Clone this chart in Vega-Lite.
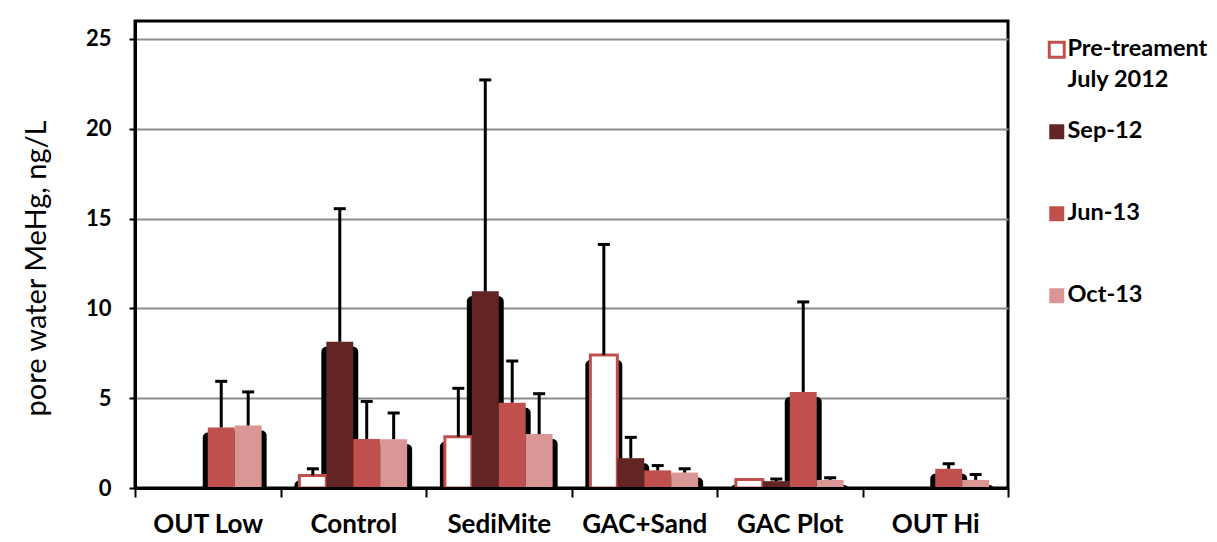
{
  "$schema": "https://vega.github.io/schema/vega-lite/v6.json",
  "width": 873,
  "height": 467,
  "autosize": {"type": "none"},
  "padding": {"left": 135, "top": 21, "right": 209, "bottom": 54},
  "background": "white",
  "config": {"view": {"stroke": "black", "strokeWidth": 3}, "font": "Lato"},
  "data": {
    "values": [
      {"site": "OUT Low", "series": "Jun-13", "value": 3.37, "upper": 5.94},
      {"site": "OUT Low", "series": "Oct-13", "value": 3.48, "upper": 5.35},
      {"site": "Control", "series": "Pre-treament July 2012", "value": 0.7, "upper": 1.07},
      {"site": "Control", "series": "Sep-12", "value": 8.14, "upper": 15.55},
      {"site": "Control", "series": "Jun-13", "value": 2.73, "upper": 4.82},
      {"site": "Control", "series": "Oct-13", "value": 2.72, "upper": 4.18},
      {"site": "SediMite", "series": "Pre-treament July 2012", "value": 2.85, "upper": 5.55},
      {"site": "SediMite", "series": "Sep-12", "value": 10.95, "upper": 22.72},
      {"site": "SediMite", "series": "Jun-13", "value": 4.75, "upper": 7.07},
      {"site": "SediMite", "series": "Oct-13", "value": 3.0, "upper": 5.25},
      {"site": "GAC+Sand", "series": "Pre-treament July 2012", "value": 7.4, "upper": 13.56},
      {"site": "GAC+Sand", "series": "Sep-12", "value": 1.66, "upper": 2.82},
      {"site": "GAC+Sand", "series": "Jun-13", "value": 0.98, "upper": 1.25},
      {"site": "GAC+Sand", "series": "Oct-13", "value": 0.86, "upper": 1.07},
      {"site": "GAC Plot", "series": "Pre-treament July 2012", "value": 0.48, "upper": null},
      {"site": "GAC Plot", "series": "Sep-12", "value": 0.38, "upper": 0.5},
      {"site": "GAC Plot", "series": "Jun-13", "value": 5.35, "upper": 10.36},
      {"site": "GAC Plot", "series": "Oct-13", "value": 0.45, "upper": 0.57},
      {"site": "OUT Hi", "series": "Jun-13", "value": 1.07, "upper": 1.35},
      {"site": "OUT Hi", "series": "Oct-13", "value": 0.45, "upper": 0.75}
    ]
  },
  "encoding": {
    "x": {
      "field": "site",
      "type": "nominal",
      "sort": ["OUT Low", "Control", "SediMite", "GAC+Sand", "GAC Plot", "OUT Hi"],
      "title": null,
      "scale": {"paddingInner": 0, "paddingOuter": 0},
      "axis": {
        "tickBand": "extent",
        "tickSize": 9,
        "tickWidth": 2,
        "tickColor": "black",
        "domainColor": "black",
        "domainWidth": 3,
        "labelFont": "Lato",
        "labelFontWeight": "bold",
        "labelFontSize": 26,
        "labelColor": "black",
        "labelPadding": 14,
        "labelAngle": 0,
        "zindex": 1
      }
    },
    "xOffset": {
      "field": "series",
      "type": "nominal",
      "scale": {
        "domain": ["Pre-treament July 2012", "Sep-12", "Jun-13", "Oct-13"],
        "paddingInner": 0,
        "paddingOuter": 0.7
      }
    }
  },
  "layer": [
    {
      "mark": {"type": "bar", "fill": "black", "stroke": "black", "strokeWidth": 10, "strokeJoin": "round", "yOffset": 10, "clip": true},
      "encoding": {
        "y": {
          "field": "value",
          "type": "quantitative",
          "scale": {"domain": [0, 25]},
          "axis": {
            "values": [0, 5, 10, 15, 20, 25],
            "grid": true,
            "gridColor": "#8c8c8c",
            "gridWidth": 2,
            "domainColor": "black",
            "domainWidth": 3,
            "tickColor": "black",
            "tickWidth": 2,
            "tickSize": 6,
            "labelFont": "Lato",
            "labelFontWeight": "bold",
            "labelFontSize": 22,
            "labelColor": "black",
            "labelPadding": 18,
            "title": "pore water MeHg, ng/L",
            "titleFont": "Lato",
            "titleFontWeight": "normal",
            "titleFontSize": 29,
            "titleColor": "black",
            "titleAngle": -90,
            "titleX": -99,
            "titleY": 247,
            "titleAlign": "center",
            "titleBaseline": "middle"
          }
        }
      }
    },
    {
      "mark": {"type": "bar", "strokeWidth": 3},
      "encoding": {
        "y": {"field": "value", "type": "quantitative"},
        "fill": {
          "field": "series",
          "type": "nominal",
          "scale": {
            "domain": ["Pre-treament July 2012", "Sep-12", "Jun-13", "Oct-13"],
            "range": ["white", "#632523", "#C0504D", "#D99694"]
          },
          "legend": {
            "orient": "none",
            "legendX": 910,
            "legendY": 17,
            "title": null,
            "symbolType": "square",
            "symbolSize": 225,
            "symbolStrokeWidth": 3,
            "symbolOpacity": 1,
            "labelFont": "Lato",
            "labelFontWeight": "bold",
            "labelFontSize": 23.5,
            "labelColor": "black",
            "labelOffset": -1,
            "labelLimit": 300,
            "labelBaseline": "top",
            "gridAlign": "all",
            "rowPadding": 26,
            "padding": 0,
            "labelExpr": "datum.label == 'Pre-treament July 2012' ? ['Pre-treament', 'July 2012'] : datum.label",
            "encode": {"labels": {"update": {"lineHeight": {"value": 31}, "dy": {"value": -13}}}}
          }
        },
        "stroke": {
          "field": "series",
          "type": "nominal",
          "scale": {
            "domain": ["Pre-treament July 2012", "Sep-12", "Jun-13", "Oct-13"],
            "range": ["#C0504D", "transparent", "transparent", "transparent"]
          },
          "legend": {
            "orient": "none",
            "legendX": 910,
            "legendY": 17,
            "title": null,
            "symbolType": "square",
            "symbolSize": 225,
            "symbolStrokeWidth": 3,
            "symbolOpacity": 1,
            "labelFont": "Lato",
            "labelFontWeight": "bold",
            "labelFontSize": 23.5,
            "labelColor": "black",
            "labelOffset": -1,
            "labelLimit": 300,
            "labelBaseline": "top",
            "gridAlign": "all",
            "rowPadding": 26,
            "padding": 0,
            "labelExpr": "datum.label == 'Pre-treament July 2012' ? ['Pre-treament', 'July 2012'] : datum.label",
            "encode": {"labels": {"update": {"lineHeight": {"value": 31}, "dy": {"value": -13}}}}
          }
        }
      }
    },
    {
      "transform": [{"filter": "datum.upper != null"}],
      "mark": {"type": "rule", "strokeWidth": 3, "color": "black"},
      "encoding": {
        "y": {"field": "value", "type": "quantitative"},
        "y2": {"field": "upper"}
      }
    },
    {
      "transform": [{"filter": "datum.upper != null"}],
      "mark": {"type": "tick", "color": "black", "thickness": 3, "size": 12, "opacity": 1},
      "encoding": {"y": {"field": "upper", "type": "quantitative"}}
    }
  ]
}
